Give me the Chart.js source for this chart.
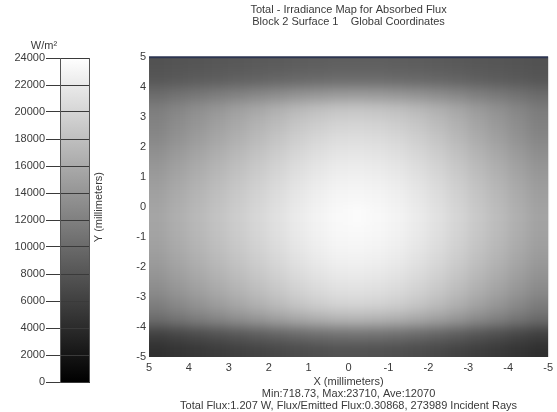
<!DOCTYPE html>
<html>
<head>
<meta charset="utf-8">
<script src="https://cdn.jsdelivr.net/npm/chart.js@4"></script>
<style>
body{margin:0;background:#fff;width:557px;height:412px;position:relative;overflow:hidden}
canvas{position:absolute;top:0}
#bar{left:0}
#map{left:88px}
</style>
</head>
<body>
<canvas id="bar" width="100" height="412"></canvas>
<canvas id="map" width="469" height="412"></canvas>
<script>
// colour bar ticks (W/m²)
const cbTicks=[0,2000,4000,6000,8000,10000,12000,14000,16000,18000,20000,22000,24000]
const xTicks=[5,4,3,2,1,0,-1,-2,-3,-4,-5]
const yTicks=[5,4,3,2,1,0,-1,-2,-3,-4,-5]
// cell centres in mm (0.5 mm cells), left->right and top->bottom
const xCells=[4.75,4.25,3.75,3.25,2.75,2.25,1.75,1.25,0.75,0.25,-0.25,-0.75,-1.25,-1.75,-2.25,-2.75,-3.25,-3.75,-4.25,-4.75]
const yCells=[4.75,4.25,3.75,3.25,2.75,2.25,1.75,1.25,0.75,0.25,-0.25,-0.75,-1.25,-1.75,-2.25,-2.75,-3.25,-3.75,-4.25,-4.75]
const cell=0.5
// irradiance W/m², rows top (y=5) to bottom (y=-5)
const irradiance=[
[7720,7910,8000,8190,8280,8470,8560,8750,8850,8940,8940,8940,8850,8750,8560,8380,8190,8090,7910,7720],
[8190,8380,8660,8850,9130,9320,9600,9790,9980,10160,10160,10160,9980,9790,9600,9320,8940,8660,8380,8090],
[10160,10730,11200,11760,12240,12800,13270,13840,14210,14490,14590,14490,14210,13840,13270,12710,11950,11390,10730,10070],
[11860,12610,13460,14210,15060,15810,16660,17410,18070,18540,18640,18450,18070,17410,16660,15720,14590,13650,12610,11670],
[12330,13270,14120,15060,15910,16850,17690,18640,19300,19860,19950,19770,19300,18640,17690,16660,15440,14400,13270,12140],
[12890,13840,14780,15720,16660,17600,18540,19480,20240,20800,20890,20710,20240,19480,18540,17410,16190,15060,13840,12710],
[13650,14590,15530,16470,17410,18350,19300,20240,20990,21550,21650,21460,20990,20240,19300,18170,16940,15810,14590,13460],
[14310,15250,16190,17130,18070,19010,19950,20890,21650,22210,22310,22120,21650,20890,19950,18820,17600,16470,15250,14120],
[14870,15810,16750,17690,18640,19580,20520,21460,22210,22780,22870,22680,22210,21460,20520,19390,18170,17040,15810,14680],
[15250,16190,17130,18070,19010,19950,20890,21840,22590,23150,23250,23060,22590,21840,20890,19770,18540,17410,16190,15060],
[15530,16470,17410,18350,19300,20240,21180,22120,22870,23440,23710,23340,22870,22120,21180,20050,18820,17690,16470,15340],
[15440,16380,17320,18260,19200,20140,21080,22020,22780,23340,23440,23250,22780,22020,21080,19950,18730,17600,16380,15250],
[15150,16090,17040,17980,18920,19860,20800,21740,22490,23060,23150,22960,22490,21740,20800,19670,18450,17320,16090,14960],
[14680,15620,16560,17510,18450,19390,20330,21270,22020,22590,22680,22490,22020,21270,20330,19200,17980,16850,15620,14490],
[14020,14960,15910,16850,17790,18730,19670,20610,21370,21930,22020,21840,21370,20610,19670,18540,17320,16190,14960,13840],
[13180,14120,15060,16000,16940,17880,18820,19770,20520,21080,21180,20990,20520,19770,18820,17690,16470,15340,14120,12990],
[11950,12890,13840,14780,15720,16660,17600,18540,19300,19860,19950,19770,19300,18540,17600,16470,15250,14120,12890,11760],
[10160,10920,11760,12520,13370,14120,14960,15720,16380,16850,16940,16750,16380,15720,14960,14020,12890,11950,10920,9980],
[6020,6590,7150,7720,8280,8850,9410,9980,10450,10730,10820,10730,10450,9980,9410,8750,8000,7340,6590,5930],
[4520,4890,5270,5650,6020,6400,6780,7150,7440,7720,7720,7620,7440,7150,6780,6310,5840,5360,4890,4420]
]
const vMax=24000

const fam='"Liberation Sans", Arial, sans-serif'
const txt='#3a3a3a'
Chart.defaults.font.family=fam
Chart.defaults.font.size=11
Chart.defaults.color=txt

function gray(v){
  let g=Math.round(Math.max(0,Math.min(1,v/vMax))*255)
  return `rgb(${g},${g},${g})`
}

// colour bar
const barFill={
  id:'barFill',
  beforeDraw(chart){
    const {ctx,chartArea:a,scales:{y}}=chart
    for(let i=0;i<cbTicks.length-1;i++){
      let y0=y.getPixelForValue(cbTicks[i]),y1=y.getPixelForValue(cbTicks[i+1])
      let g=ctx.createLinearGradient(0,y0,0,y1)
      g.addColorStop(0,gray(cbTicks[i]))
      g.addColorStop(1,gray(cbTicks[i+1]))
      ctx.fillStyle=g
      ctx.fillRect(a.left,y1,a.right-a.left,y0-y1)
    }
  },
  afterDraw(chart){
    const {ctx,chartArea:a}=chart
    ctx.save()
    ctx.strokeStyle='#555'
    ctx.beginPath();ctx.moveTo(a.right-0.5,a.top);ctx.lineTo(a.right-0.5,a.bottom);ctx.stroke()
    ctx.fillStyle=txt
    ctx.font='11px '+fam
    ctx.textAlign='center'
    ctx.textBaseline='middle'
    ctx.fillText('W/m²',44,46)
    ctx.restore()
  }
}

new Chart(document.getElementById('bar'),{
  type:'bar',
  data:{labels:[''],datasets:[]},
  options:{
    responsive:false,animation:false,
    layout:{padding:{top:58,bottom:30,right:10,left:0}},
    plugins:{legend:{display:false},tooltip:{enabled:false}},
    scales:{
      x:{display:false},
      y:{
        min:0,max:24000,
        afterBuildTicks:s=>{s.ticks=cbTicks.map(v=>({value:v}))},
        afterFit:s=>{s.width=60},
        ticks:{padding:1,color:txt,callback:v=>String(v)},
        grid:{color:'#3a3a3a',tickLength:14,drawOnChartArea:true},
        border:{color:'#555'}
      }
    }
  },
  plugins:[barFill]
})

// irradiance map: cells go to an offscreen canvas, then get softened onto the plot
const heat={
  id:'heat',
  beforeDatasetsDraw(chart){
    const {ctx,chartArea:a,scales:{x,y}}=chart
    const m=24
    const off=document.createElement('canvas')
    off.width=Math.ceil(a.width)+2*m
    off.height=Math.ceil(a.height)+2*m
    const o=off.getContext('2d')
    const nx=xCells.length-1,ny=yCells.length-1
    for(let r=0;r<yCells.length;r++){
      for(let c=0;c<xCells.length;c++){
        let x0=x.getPixelForValue(xCells[c]+cell/2),x1=x.getPixelForValue(xCells[c]-cell/2)
        let y0=y.getPixelForValue(yCells[r]+cell/2),y1=y.getPixelForValue(yCells[r]-cell/2)
        let l=Math.floor(Math.min(x0,x1))-a.left+m,t=Math.floor(Math.min(y0,y1))-a.top+m
        let rr=Math.ceil(Math.max(x0,x1))-a.left+m,bb=Math.ceil(Math.max(y0,y1))-a.top+m
        if(c==0)l-=m
        if(c==nx)rr+=m
        if(r==0)t-=m
        if(r==ny)bb+=m
        o.fillStyle=gray(irradiance[r][c])
        o.fillRect(l,t,rr-l,bb-t)
      }
    }
    ctx.save()
    ctx.beginPath();ctx.rect(a.left,a.top,a.width,a.height);ctx.clip()
    ctx.filter='blur(6px)'
    ctx.drawImage(off,a.left-m,a.top-m)
    ctx.restore()
    // frame: dark top edge, light right edge
    ctx.save()
    ctx.strokeStyle='#2c3550'
    ctx.lineWidth=2
    ctx.beginPath();ctx.moveTo(a.left,a.top);ctx.lineTo(a.right,a.top);ctx.stroke()
    ctx.strokeStyle='#d8d8d8'
    ctx.lineWidth=1
    ctx.beginPath();ctx.moveTo(a.right+0.5,a.top);ctx.lineTo(a.right+0.5,a.bottom);ctx.stroke()
    ctx.restore()
  }
}

new Chart(document.getElementById('map'),{
  type:'scatter',
  data:{datasets:[]},
  options:{
    responsive:false,animation:false,
    layout:{padding:{top:0,right:6,bottom:0,left:0}},
    plugins:{
      legend:{display:false},tooltip:{enabled:false},
      title:{
        display:true,fullSize:false,
        text:['Total - Irradiance Map for Absorbed Flux','Block 2 Surface 1    Global Coordinates'],
        color:txt,font:{size:11,weight:'normal',lineHeight:1.1},
        padding:{top:4,bottom:29}
      }
    },
    scales:{
      x:{
        type:'linear',min:-5,max:5,reverse:true,
        afterBuildTicks:s=>{s.ticks=xTicks.map(v=>({value:v}))},
        afterFit:s=>{s.height=55},
        grid:{display:false,drawTicks:false},border:{display:false},
        ticks:{padding:4,maxRotation:0,autoSkip:false,color:txt},
        title:{display:true,color:txt,
          text:['X (millimeters)','Min:718.73, Max:23710, Ave:12070','Total Flux:1.207 W, Flux/Emitted Flux:0.30868, 273989 Incident Rays'],
          font:{size:11,lineHeight:1.1},padding:{top:1,bottom:0}}
      },
      y:{
        type:'linear',min:-5,max:5,
        afterBuildTicks:s=>{s.ticks=yTicks.map(v=>({value:v}))},
        afterFit:s=>{s.width=61},
        grid:{display:false,drawTicks:false},border:{display:false},
        ticks:{padding:3,color:txt},
        title:{display:true,text:'Y (millimeters)',color:txt,font:{size:11},padding:{top:4,bottom:4}}
      }
    }
  },
  plugins:[heat]
})
</script>
</body>
</html>
